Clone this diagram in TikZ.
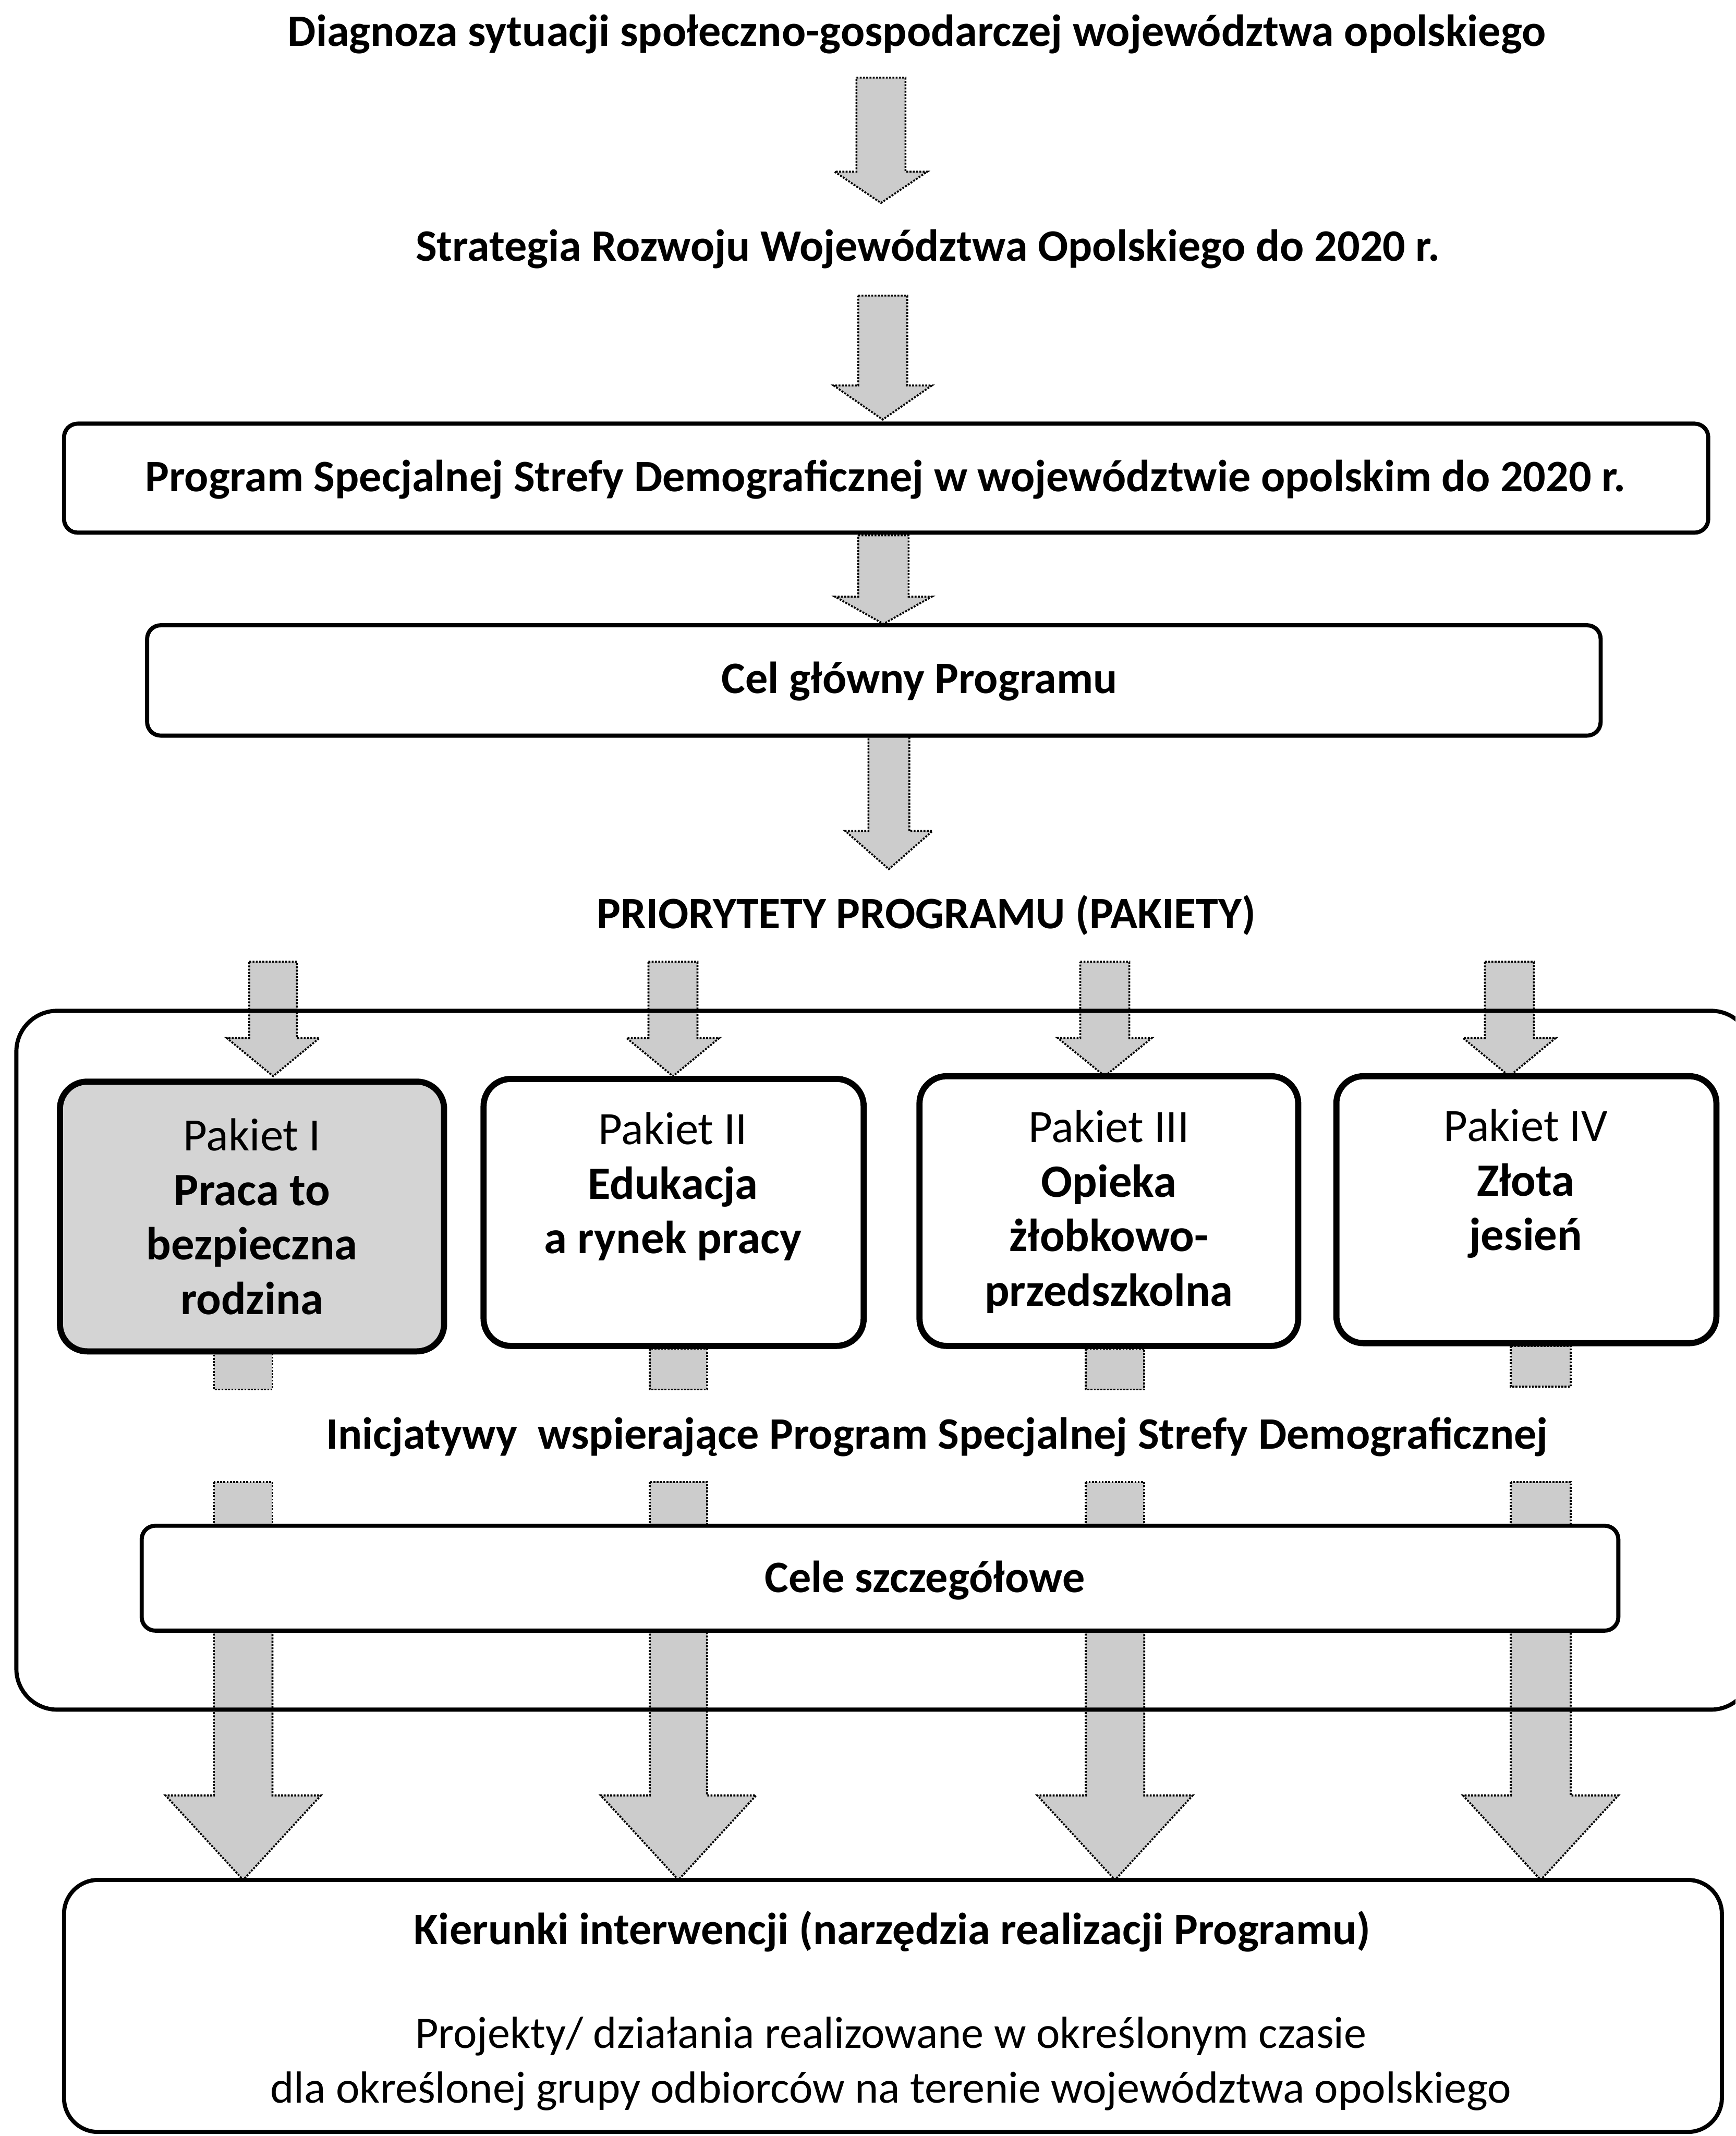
\documentclass[tikz,border=0pt]{standalone}
\usepackage{fontspec}
\setmainfont{Carlito}
\usetikzlibrary{calc}
\tikzset{
  blockarr/.style={draw=black, line width=1.4pt, densely dotted, fill=black!20},
  frame/.style={draw, line width=3pt, rounded corners=10pt, inner sep=0pt},
  pak/.style={draw, line width=4.5pt, rounded corners=20pt, inner sep=0pt, fill=white},
  ttl/.style={font=\fontsize{33}{40}\selectfont\bfseries, inner sep=0pt},
  ptxt/.style={font=\fontsize{33}{40}\selectfont, align=center, inner sep=0pt},
  pktxt/.style={font=\fontsize{34}{40}\selectfont, align=center, inner sep=0pt},
}
% #1 centre x, #2 shaft half width, #3 head half width, #4 top y, #5 head start y, #6 tip y
\newcommand{\barrow}[6]{\draw[blockarr] (#1-#2,#4) -- (#1+#2,#4) -- (#1+#2,#5) -- (#1+#3,#5) -- (#1,#6) -- (#1-#3,#5) -- (#1-#2,#5) -- cycle;}
\newcommand{\bstub}[4]{\draw[blockarr] (#1-#2,#3) rectangle (#1+#2,#4);}
\begin{document}
\begin{tikzpicture}[x=1pt,y=-1pt]
\useasboundingbox (0,0) rectangle (1274,1568);
\fill[white] (0,0) rectangle (1274,1568);
\clip (0,0) rectangle (1274,1568);

% titles
\node[ttl] (diag) at (673,25) {Diagnoza sytuacji społeczno-gospodarczej województwa opolskiego};
\node[ttl] (strat) at (681,183) {Strategia Rozwoju Województwa Opolskiego do 2020 r.};

% top arrows
\barrow{646.7}{18}{34}{57}{126}{149}
\barrow{648}{18}{36}{217}{283}{308}
\barrow{648.5}{18.5}{35.5}{393}{438}{458}
\barrow{652.5}{15}{32}{540}{610}{638}

% program box
\node[frame, minimum width=1207pt, minimum height=80pt] (prog) at (650.5,351) {};
\node[ttl] (progt) at (650,352) {Program Specjalnej Strefy Demograficznej w województwie opolskim do 2020 r.};

% cel glowny
\node[frame, minimum width=1067pt, minimum height=81pt] (cel) at (641.5,499.5) {};
\node[ttl] (celt) at (675,500) {Cel główny Programu};

\node[ttl] (prio) at (680,672) {PRIORYTETY PROGRAMU (PAKIETY)};

% arrows into packets
\barrow{200.5}{17.5}{34}{706}{762}{790}
\barrow{494}{18}{34}{706}{762}{790}
\barrow{811}{18}{34.5}{706}{762}{790}
\barrow{1108}{18}{34}{706}{762}{790}

% stubs
\bstub{178.5}{21.5}{992}{1020}
\bstub{498}{21}{990}{1020}
\bstub{818.5}{21.5}{990}{1020}
\bstub{1131}{22}{988}{1018}
\bstub{178.5}{21.5}{1088}{1120}
\bstub{498}{21}{1088}{1120}
\bstub{818.5}{21.5}{1088}{1120}
\bstub{1131}{22}{1088}{1120}

% big arrows
\barrow{178.5}{21.5}{57}{1197}{1318}{1380}
\barrow{498}{21}{57}{1197}{1318}{1380}
\barrow{818.5}{21.5}{57}{1197}{1318}{1380}
\barrow{1131}{22}{57}{1197}{1318}{1380}

% container
\node[frame, rounded corners=30pt, minimum width=1274pt, minimum height=513pt] (cont) at (649,998.5) {};

% packets
\node[pak, fill=black!17, minimum width=282pt, minimum height=198pt] (p1) at (185,893) {};
\node[pktxt] (p1t) at (185,893) {Pakiet I\\\textbf{Praca to}\\\textbf{bezpieczna}\\\textbf{rodzina}};
\node[pak, minimum width=279pt, minimum height=196pt] (p2) at (494.5,890) {};
\node[pktxt] (p2t) at (494,871) {Pakiet II\\\textbf{Edukacja}\\\textbf{a rynek pracy}};
\node[pak, minimum width=278pt, minimum height=198pt] (p3) at (814,889) {};
\node[pktxt] (p3t) at (814,889.5) {Pakiet III\\\textbf{Opieka}\\\textbf{żłobkowo-}\\\textbf{przedszkolna}};
\node[pak, minimum width=279pt, minimum height=196pt] (p4) at (1120.5,888) {};
\node[pktxt] (p4t) at (1120,869) {Pakiet IV\\\textbf{Złota}\\\textbf{jesień}};

\node[ttl] (inic) at (688,1055) {Inicjatywy\ \ wspierające Program Specjalnej Strefy Demograficznej};

% cele szczegolowe
\node[frame, fill=white, minimum width=1084pt, minimum height=77pt] (cele) at (646,1158.5) {};
\node[ttl] (celet) at (679,1160) {Cele szczegółowe};

% bottom box
\node[frame, fill=white, rounded corners=25pt, minimum width=1217pt, minimum height=185pt] (kier) at (655.5,1472.5) {};
\node[ttl] (kiert) at (655,1418) {Kierunki interwencji (narzędzia realizacji Programu)};
\node[ptxt] (projt) at (654,1515) {Projekty/ działania realizowane w określonym czasie\\dla określonej grupy odbiorców na terenie województwa opolskiego};
\end{tikzpicture}
\end{document}
